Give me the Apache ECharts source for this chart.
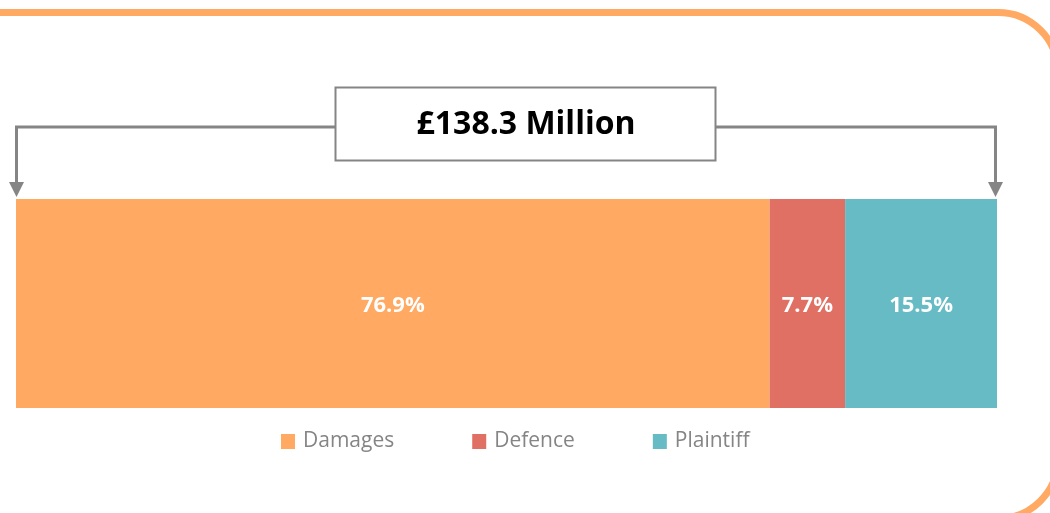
<!DOCTYPE html>
<html>
<head>
<meta charset="utf-8">
<script src="https://cdn.jsdelivr.net/npm/echarts@6/dist/echarts.min.js"></script>
<style>
  html, body { margin: 0; padding: 0; background: #fff; }
  #chart { width: 1050px; height: 513px; }
</style>
</head>
<body>
<div id="chart"></div>
<script>
// cost split of the total
const categories = ['Damages', 'Defence', 'Plaintiff'];
const shares = [76.9, 7.7, 15.5];
const colors = ['#FFA962', '#E07063', '#66BBC4'];
const totalLabel = '£138.3 Million';

const total = shares.reduce((a, b) => a + b, 0);
const grey = '#858585';

const chart = echarts.init(document.getElementById('chart'));

const series = categories.map((name, i) => ({
  name: name,
  type: 'bar',
  stack: 'total',
  barWidth: '100%',
  itemStyle: { color: colors[i] },
  label: {
    show: true,
    position: 'inside',
    offset: [0, 2],
    formatter: p => p.value.toFixed(1) + '%',
    color: '#fff',
    fontFamily: 'Open Sans',
    fontWeight: 'bold',
    fontSize: 22
  },
  data: [shares[i]]
}));

chart.setOption({
  animation: false,
  backgroundColor: '#fff',
  grid: { left: 16, right: 53, top: 199, height: 209 },
  xAxis: { type: 'value', min: 0, max: total, show: false },
  yAxis: { type: 'category', data: ['Total'], show: false },
  legend: {
    data: categories,
    left: 276,
    top: 426,
    itemWidth: 14,
    itemHeight: 15,
    itemGap: 78,
    icon: 'rect',
    textStyle: { color: grey, fontFamily: 'Open Sans', fontSize: 21, padding: [0, 0, 0, 3] }
  },
  series: series,
  graphic: [
    // rounded frame, mostly cropped by the canvas
    {
      type: 'rect',
      shape: { x: -60, y: 12.5, width: 1118, height: 506, r: 60 },
      style: { fill: 'none', stroke: '#FFA962', lineWidth: 7 },
      silent: true
    },
    // bracket lines
    {
      type: 'polyline',
      shape: { points: [[335, 127], [16.5, 127], [16.5, 184]] },
      style: { stroke: grey, lineWidth: 3, fill: 'none' }
    },
    {
      type: 'polyline',
      shape: { points: [[716, 127], [995.5, 127], [995.5, 184]] },
      style: { stroke: grey, lineWidth: 3, fill: 'none' }
    },
    {
      type: 'polygon',
      shape: { points: [[9, 182], [24, 182], [16.5, 197]] },
      style: { fill: grey }
    },
    {
      type: 'polygon',
      shape: { points: [[988, 182], [1003, 182], [995.5, 197]] },
      style: { fill: grey }
    },
    // total box
    {
      type: 'rect',
      shape: { x: 335.5, y: 87.5, width: 380, height: 73 },
      style: { fill: '#fff', stroke: grey, lineWidth: 2 }
    },
    {
      type: 'text',
      x: 526,
      y: 125,
      style: {
        text: totalLabel,
        fill: '#000',
        fontFamily: 'Open Sans',
        fontWeight: 'bold',
        fontSize: 32,
        align: 'center',
        verticalAlign: 'middle'
      }
    }
  ]
});
</script>
</body>
</html>
